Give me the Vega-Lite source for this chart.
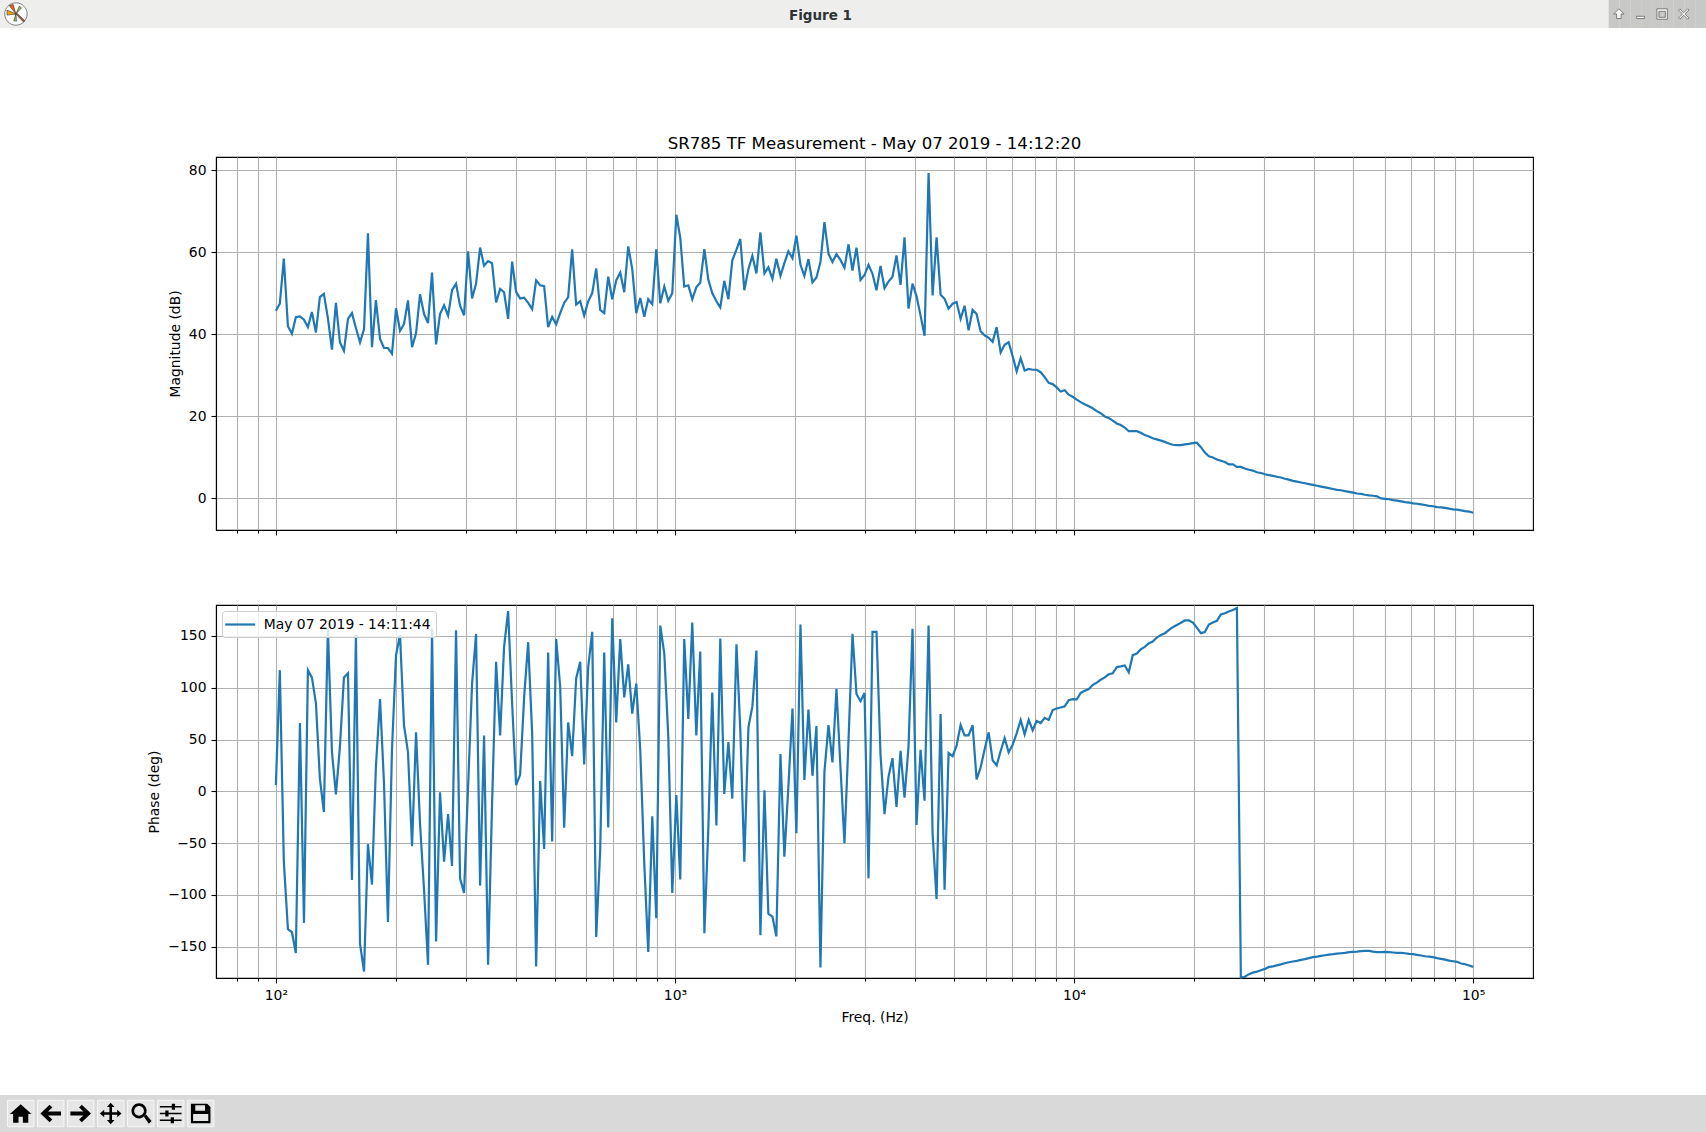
{
  "$schema": "https://vega.github.io/schema/vega-lite/v6.json",
  "padding": 0,
  "background": "white",
  "config": {
    "view": {"stroke": null},
    "concat": {"spacing": 0},
    "axis": {
      "labelFont": "DejaVu Sans", "labelFontSize": 13.9, "labelColor": "#000", "labelPadding": 5,
      "titleFont": "DejaVu Sans", "titleFontSize": 13.9, "titleFontWeight": "normal", "titleColor": "#000",
      "domainColor": "#000", "domainWidth": 1.1, "tickColor": "#000", "tickWidth": 1.1, "tickSize": 5,
      "gridColor": "#b0b0b0", "gridWidth": 1.1, "gridOpacity": 1
    }
  },
  "datasets": {
    "tf": [
      {"freq":100,"mag":45.7,"phase":6},{"freq":102.3,"mag":47.4,"phase":117},{"freq":104.7,"mag":58.4,"phase":-68},{"freq":107.2,"mag":41.9,"phase":-133},{"freq":109.7,"mag":40.1,"phase":-136},
      {"freq":112.2,"mag":44.1,"phase":-156},{"freq":114.9,"mag":44.3,"phase":66},{"freq":117.6,"mag":43.5,"phase":-127},{"freq":120.3,"mag":41.7,"phase":117},{"freq":123.1,"mag":45.4,"phase":110},
      {"freq":126,"mag":40.4,"phase":85},{"freq":128.9,"mag":49,"phase":12.5},{"freq":131.9,"mag":49.8,"phase":-20},{"freq":135,"mag":43.9,"phase":157},{"freq":138.2,"mag":36.2,"phase":38},
      {"freq":141.4,"mag":47.6,"phase":-3},{"freq":144.7,"mag":38,"phase":43},{"freq":148.1,"mag":35.9,"phase":110},{"freq":151.6,"mag":43.7,"phase":114},{"freq":155.1,"mag":45.1,"phase":-85.5},
      {"freq":158.7,"mag":41.5,"phase":151},{"freq":162.5,"mag":38,"phase":-147},{"freq":166.3,"mag":41.2,"phase":-174},{"freq":170.1,"mag":64.6,"phase":-51},{"freq":174.1,"mag":36.8,"phase":-90},
      {"freq":178.1,"mag":48.3,"phase":24},{"freq":182.4,"mag":38.8,"phase":89},{"freq":186.6,"mag":36.6,"phase":8},{"freq":190.9,"mag":36.6,"phase":-126},{"freq":195.4,"mag":35.2,"phase":40},
      {"freq":200,"mag":46.3,"phase":131.5},{"freq":204.7,"mag":40.8,"phase":151},{"freq":209.4,"mag":42.4,"phase":64},{"freq":214.3,"mag":48.2,"phase":38},{"freq":219.4,"mag":36.8,"phase":-53},
      {"freq":224.5,"mag":40.2,"phase":57},{"freq":229.7,"mag":49.7,"phase":-31},{"freq":235.1,"mag":44.9,"phase":-95},{"freq":240.6,"mag":42.7,"phase":-167.5},{"freq":246.2,"mag":55,"phase":157},
      {"freq":252,"mag":37.5,"phase":-145},{"freq":257.8,"mag":44.9,"phase":-1},{"freq":263.9,"mag":47,"phase":-68},{"freq":270.1,"mag":44.5,"phase":-22},{"freq":276.3,"mag":50.7,"phase":-72},
      {"freq":282.8,"mag":52.3,"phase":155.6},{"freq":289.4,"mag":46.9,"phase":-84},{"freq":296.2,"mag":44.6,"phase":-98},{"freq":303.1,"mag":60.2,"phase":4},{"freq":310.2,"mag":48.7,"phase":104},
      {"freq":317.4,"mag":52.3,"phase":152},{"freq":324.9,"mag":61.1,"phase":-91},{"freq":332.4,"mag":56.7,"phase":54},{"freq":340.2,"mag":57.8,"phase":-167.5},{"freq":348.1,"mag":57.3,"phase":-12},
      {"freq":356.3,"mag":47.7,"phase":125},{"freq":364.7,"mag":51,"phase":54},{"freq":373.1,"mag":50.2,"phase":139.5},{"freq":381.9,"mag":43.7,"phase":174},{"freq":390.8,"mag":57.7,"phase":85},
      {"freq":399.9,"mag":50.3,"phase":6},{"freq":409.3,"mag":48.7,"phase":16},{"freq":418.9,"mag":48.9,"phase":91},{"freq":428.7,"mag":47.6,"phase":144},{"freq":438.7,"mag":46.1,"phase":56},
      {"freq":448.9,"mag":53.1,"phase":-169},{"freq":459.4,"mag":51.9,"phase":10},{"freq":470.1,"mag":51.7,"phase":-55.6},{"freq":481.1,"mag":41.7,"phase":134},{"freq":492.4,"mag":44.2,"phase":-48.5},
      {"freq":503.9,"mag":42.4,"phase":147},{"freq":515.7,"mag":45.1,"phase":101},{"freq":527.7,"mag":47.6,"phase":-35},{"freq":540,"mag":49,"phase":66.5},{"freq":552.6,"mag":60.7,"phase":34},
      {"freq":565.5,"mag":47.2,"phase":109},{"freq":578.8,"mag":48,"phase":125},{"freq":592.3,"mag":44.5,"phase":26},{"freq":606.2,"mag":48,"phase":120},{"freq":620.4,"mag":50,"phase":154},
      {"freq":634.9,"mag":56,"phase":-140.5},{"freq":649.7,"mag":45.9,"phase":-56.6},{"freq":664.9,"mag":45.1,"phase":134},{"freq":680.4,"mag":54,"phase":-35},{"freq":696.3,"mag":48.5,"phase":167},
      {"freq":712.5,"mag":53.1,"phase":66.5},{"freq":729.2,"mag":55,"phase":147},{"freq":746.3,"mag":50.2,"phase":90.7},{"freq":763.7,"mag":61.4,"phase":122.5},{"freq":781.5,"mag":55.9,"phase":75},
      {"freq":799.8,"mag":45.1,"phase":104},{"freq":818.5,"mag":48.8,"phase":40},{"freq":837.7,"mag":44.2,"phase":-69.5},{"freq":857.2,"mag":48.5,"phase":-155},{"freq":877.3,"mag":47.3,"phase":-24},
      {"freq":897.8,"mag":60.7,"phase":-122.5},{"freq":918.7,"mag":47.5,"phase":160},{"freq":940.3,"mag":51.6,"phase":133},{"freq":962.2,"mag":48.1,"phase":53},{"freq":984.7,"mag":50,"phase":-98},
      {"freq":1008,"mag":69.1,"phase":-3.5},{"freq":1031,"mag":63.5,"phase":-85},{"freq":1055,"mag":51.6,"phase":147},{"freq":1080,"mag":51.9,"phase":70},{"freq":1105,"mag":48.5,"phase":163},
      {"freq":1131,"mag":51.4,"phase":54},{"freq":1157,"mag":52.5,"phase":135},{"freq":1185,"mag":60.7,"phase":-137},{"freq":1212,"mag":53.3,"phase":-37},{"freq":1240,"mag":50,"phase":95.5},
      {"freq":1270,"mag":48,"phase":-33},{"freq":1299,"mag":46.5,"phase":147.6},{"freq":1329,"mag":53,"phase":-2.6},{"freq":1361,"mag":48.5,"phase":47.6},{"freq":1392,"mag":58,"phase":-7},
      {"freq":1426,"mag":60.6,"phase":142},{"freq":1458,"mag":63.2,"phase":59},{"freq":1492,"mag":50.7,"phase":-68},{"freq":1528,"mag":55.9,"phase":62},{"freq":1563,"mag":59.1,"phase":82},
      {"freq":1600,"mag":54.8,"phase":136},{"freq":1637,"mag":64.8,"phase":-139},{"freq":1676,"mag":54.8,"phase":1},{"freq":1714,"mag":56.3,"phase":-118},{"freq":1755,"mag":53.5,"phase":-121},
      {"freq":1795,"mag":58.4,"phase":-140},{"freq":1838,"mag":54.2,"phase":36},{"freq":1880,"mag":57.3,"phase":-63},{"freq":1924,"mag":60.2,"phase":4.5},{"freq":1970,"mag":58.5,"phase":80},
      {"freq":2015,"mag":64,"phase":-40.5},{"freq":2063,"mag":56.9,"phase":161},{"freq":2110,"mag":54.2,"phase":11},{"freq":2160,"mag":58.3,"phase":79},{"freq":2211,"mag":52.6,"phase":15},
      {"freq":2262,"mag":53.8,"phase":63},{"freq":2315,"mag":57.6,"phase":-170},{"freq":2369,"mag":67.3,"phase":19},{"freq":2425,"mag":59.6,"phase":64},{"freq":2481,"mag":57.6,"phase":28},
      {"freq":2539,"mag":59.5,"phase":99},{"freq":2598,"mag":58.1,"phase":24},{"freq":2659,"mag":56.2,"phase":-50},{"freq":2722,"mag":61.9,"phase":49.5},{"freq":2785,"mag":55.5,"phase":152},
      {"freq":2850,"mag":61.1,"phase":94},{"freq":2917,"mag":53.2,"phase":87},{"freq":2985,"mag":54.4,"phase":95},{"freq":3055,"mag":56.9,"phase":-84},{"freq":3126,"mag":54.7,"phase":154},
      {"freq":3199,"mag":50.7,"phase":154},{"freq":3274,"mag":56.6,"phase":35},{"freq":3350,"mag":51.2,"phase":-22},{"freq":3428,"mag":52.8,"phase":14},{"freq":3508,"mag":54,"phase":32},
      {"freq":3590,"mag":59.2,"phase":-15},{"freq":3675,"mag":52,"phase":39},{"freq":3760,"mag":63.6,"phase":-6},{"freq":3848,"mag":46.2,"phase":43},{"freq":3938,"mag":52.3,"phase":157},
      {"freq":4030,"mag":49.2,"phase":-32.5},{"freq":4125,"mag":44.5,"phase":40},{"freq":4221,"mag":39.6,"phase":-9},{"freq":4320,"mag":79.3,"phase":160},{"freq":4421,"mag":49.4,"phase":-40.5},
      {"freq":4524,"mag":63.6,"phase":-104},{"freq":4630,"mag":49.6,"phase":74.6},{"freq":4738,"mag":48.6,"phase":-95},{"freq":4849,"mag":46.2,"phase":37},{"freq":4962,"mag":47.4,"phase":34},
      {"freq":5078,"mag":47.8,"phase":44},{"freq":5197,"mag":43.7,"phase":64},{"freq":5318,"mag":46.9,"phase":54},{"freq":5442,"mag":40.9,"phase":54},{"freq":5569,"mag":45.9,"phase":64},
      {"freq":5699,"mag":44.9,"phase":11.6},{"freq":5832,"mag":40.7,"phase":23},{"freq":5969,"mag":39.7,"phase":40.5},{"freq":6109,"mag":39.1,"phase":57},{"freq":6252,"mag":38.1,"phase":30},
      {"freq":6398,"mag":41.7,"phase":25},{"freq":6548,"mag":35.5,"phase":39},{"freq":6700,"mag":37.4,"phase":51.4},{"freq":6857,"mag":38,"phase":37.6},{"freq":7017,"mag":34.6,"phase":45},
      {"freq":7181,"mag":30.9,"phase":56},{"freq":7349,"mag":34.1,"phase":69},{"freq":7520,"mag":31.1,"phase":55},{"freq":7697,"mag":31.5,"phase":69},{"freq":7876,"mag":31.3,"phase":59},
      {"freq":8060,"mag":31.3,"phase":68},{"freq":8248,"mag":30.7,"phase":66},{"freq":8442,"mag":29.5,"phase":71},{"freq":8639,"mag":28.1,"phase":69},{"freq":8841,"mag":27.8,"phase":78.5},
      {"freq":9047,"mag":27,"phase":80},{"freq":9258,"mag":26,"phase":81},{"freq":9476,"mag":26.3,"phase":82},{"freq":9697,"mag":25.2,"phase":88},{"freq":9923,"mag":24.7,"phase":89},
      {"freq":10155,"mag":24,"phase":88.7},{"freq":10390,"mag":23.4,"phase":95},{"freq":10630,"mag":22.9,"phase":97},{"freq":10890,"mag":22.4,"phase":98.7},{"freq":11130,"mag":21.9,"phase":102.6},
      {"freq":11400,"mag":21.2,"phase":105},{"freq":11660,"mag":20.7,"phase":107.7},{"freq":11940,"mag":19.9,"phase":110},{"freq":12210,"mag":19.5,"phase":113},{"freq":12500,"mag":18.9,"phase":114},
      {"freq":12800,"mag":18.2,"phase":120},{"freq":13090,"mag":17.8,"phase":120.6},{"freq":13400,"mag":17.2,"phase":121.5},{"freq":13710,"mag":16.3,"phase":115},{"freq":14030,"mag":16.3,"phase":131.5},
      {"freq":14370,"mag":16.3,"phase":133},{"freq":14690,"mag":15.9,"phase":137},{"freq":15040,"mag":15.4,"phase":139.5},{"freq":15400,"mag":15,"phase":143},{"freq":15750,"mag":14.6,"phase":144.7},
      {"freq":16120,"mag":14.3,"phase":148.5},{"freq":16500,"mag":14,"phase":151},{"freq":16890,"mag":13.7,"phase":152.7},{"freq":17270,"mag":13.3,"phase":155.6},{"freq":17680,"mag":13,"phase":158.5},
      {"freq":18090,"mag":12.9,"phase":160.5},{"freq":18520,"mag":12.9,"phase":162.7},{"freq":18950,"mag":13.1,"phase":165},{"freq":19390,"mag":13.2,"phase":165},{"freq":19850,"mag":13.4,"phase":163},
      {"freq":20310,"mag":13.5,"phase":158},{"freq":20790,"mag":12.4,"phase":152.7},{"freq":21270,"mag":11.1,"phase":153.7},{"freq":21770,"mag":10.2,"phase":161},{"freq":22280,"mag":9.9,"phase":163},
      {"freq":22800,"mag":9.4,"phase":164.6},{"freq":23330,"mag":9.1,"phase":170.7},{"freq":23870,"mag":8.8,"phase":172},{"freq":24430,"mag":8.2,"phase":173.6},{"freq":25010,"mag":8.2,"phase":175},
      {"freq":25590,"mag":7.6,"phase":177},{"freq":26180,"mag":7.6,"phase":-179.7},{"freq":26790,"mag":7.2,"phase":-179},{"freq":27430,"mag":6.9,"phase":-176.5},{"freq":28060,"mag":6.7,"phase":-175},
      {"freq":28720,"mag":6.3,"phase":-174},{"freq":29390,"mag":6.1,"phase":-172.7},{"freq":30080,"mag":5.8,"phase":-171.4},{"freq":30780,"mag":5.6,"phase":-169.5},{"freq":31500,"mag":5.4,"phase":-169},
      {"freq":32230,"mag":5.2,"phase":-168},{"freq":32990,"mag":5,"phase":-167},{"freq":33760,"mag":4.7,"phase":-166},{"freq":34550,"mag":4.5,"phase":-165},{"freq":35350,"mag":4.2,"phase":-164.3},
      {"freq":36180,"mag":4,"phase":-163.7},{"freq":37030,"mag":3.8,"phase":-162.7},{"freq":37890,"mag":3.6,"phase":-162},{"freq":38780,"mag":3.4,"phase":-161},{"freq":39680,"mag":3.2,"phase":-160},
      {"freq":40620,"mag":3,"phase":-159.5},{"freq":41570,"mag":2.8,"phase":-158.8},{"freq":42540,"mag":2.6,"phase":-158.2},{"freq":43530,"mag":2.4,"phase":-157.6},{"freq":44550,"mag":2.2,"phase":-157.2},
      {"freq":45590,"mag":2,"phase":-156.6},{"freq":46660,"mag":1.9,"phase":-156.3},{"freq":47740,"mag":1.7,"phase":-156},{"freq":48860,"mag":1.5,"phase":-155.3},{"freq":50000,"mag":1.3,"phase":-155},
      {"freq":51170,"mag":1.1,"phase":-154.7},{"freq":52370,"mag":1,"phase":-154.3},{"freq":53590,"mag":0.8,"phase":-154},{"freq":54840,"mag":0.65,"phase":-154},{"freq":56120,"mag":0.55,"phase":-154.7},
      {"freq":57430,"mag":0.4,"phase":-155.3},{"freq":58780,"mag":-0.1,"phase":-155.3},{"freq":60150,"mag":-0.2,"phase":-155},{"freq":61560,"mag":-0.3,"phase":-155.3},{"freq":63000,"mag":-0.5,"phase":-155.6},
      {"freq":64480,"mag":-0.65,"phase":-156},{"freq":65980,"mag":-0.8,"phase":-156},{"freq":67520,"mag":-1,"phase":-156.3},{"freq":69100,"mag":-1.1,"phase":-156.9},{"freq":70710,"mag":-1.3,"phase":-157.2},
      {"freq":72360,"mag":-1.4,"phase":-157.9},{"freq":74050,"mag":-1.55,"phase":-158.5},{"freq":75790,"mag":-1.7,"phase":-159.2},{"freq":77560,"mag":-1.9,"phase":-159.5},{"freq":79370,"mag":-2,"phase":-160.1},
      {"freq":81220,"mag":-2.2,"phase":-161},{"freq":83120,"mag":-2.3,"phase":-161.7},{"freq":85070,"mag":-2.4,"phase":-162.4},{"freq":87050,"mag":-2.6,"phase":-163.4},{"freq":89100,"mag":-2.75,"phase":-164},
      {"freq":91180,"mag":-2.85,"phase":-164.6},{"freq":93300,"mag":-3,"phase":-166.2},{"freq":95490,"mag":-3.2,"phase":-166.9},{"freq":97720,"mag":-3.3,"phase":-168.2},{"freq":100000,"mag":-3.6,"phase":-169.5}
    ]
  },
  "concat": [
    {
      "width": 216, "height": 28, "view": {"fill": "#eeeeec"},
      "data": {"values": [{"part": "disc"}, {"part": "orange"}, {"part": "yellow"}, {"part": "green"}, {"part": "brown"}]},
      "mark": {"type": "point", "filled": true, "opacity": 1, "size": 500, "stroke": "#333", "strokeWidth": 0.6},
      "encoding": {
        "x": {"datum": "app", "type": "nominal", "axis": null, "scale": {"type": "point", "padding": 0.0866, "domain": ["app", "rest"]}},
        "shape": {"field": "part", "legend": null, "scale": {
          "domain": ["disc", "orange", "yellow", "green", "brown"],
          "range": [
            "M0,-1 A1,1 0 1 1 0,1 A1,1 0 1 1 0,-1 Z",
            "M0,0 L-0.6,-0.75 L-0.25,-0.85 Z",
            "M0,0 L-0.8,-0.35 L-0.8,0.1 Z",
            "M0,0 L0.3,-0.7 L0.5,-0.55 Z M0,0 L-0.2,0.6 L0.05,0.65 Z",
            "M-0.05,-0.05 L0.05,-0.1 L0.8,0.6 L0.65,0.7 Z"
          ]}},
        "color": {"field": "part", "legend": null, "scale": {
          "domain": ["disc", "orange", "yellow", "green", "brown"],
          "range": ["#ffffff", "#e8601c", "#f0a400", "#8cc152", "#a0522d"]}}
      }
    },
    {
      "width": 1317, "height": 28, "view": {"fill": "#eeeeec"},
      "data": {"values": [{"label": "Figure 1"}]},
      "mark": {"type": "text", "font": "DejaVu Sans", "fontSize": 13.5, "fontWeight": "bold", "color": "#2e3436", "dx": -54, "dy": 2},
      "encoding": {"text": {"field": "label"}}
    },
    {
      "width": 173, "height": 28, "view": {"fill": "#eeeeec"},
      "layer": [
        {
          "data": {"values": [{"slot": 7}, {"slot": 8}, {"slot": 9}, {"slot": 10}, {"slot": 11}, {"slot": 12}, {"slot": 13}, {"slot": 14}, {"slot": 15}]},
          "mark": {"type": "rect", "color": "#c8c8c6"},
          "encoding": {"x": {"field": "slot", "type": "ordinal", "axis": null, "scale": {"type": "band", "paddingInner": 0, "paddingOuter": 0, "domain": [0, 1, 2, 3, 4, 5, 6, 7, 8, 9, 10, 11, 12, 13, 14, 15]}}}
        },
        {
          "data": {"values": [{"slot": 8, "button": "up"}, {"slot": 10, "button": "min"}, {"slot": 12, "button": "max"}, {"slot": 14, "button": "close"}]},
          "mark": {"type": "point", "filled": true, "opacity": 1, "size": 170, "color": "#f4f4f4", "stroke": "#666", "strokeWidth": 0.8, "xOffset": -6},
          "encoding": {
            "x": {"field": "slot", "type": "ordinal", "axis": null, "scale": {"type": "band", "paddingInner": 0, "paddingOuter": 0, "domain": [0, 1, 2, 3, 4, 5, 6, 7, 8, 9, 10, 11, 12, 13, 14, 15]}},
            "shape": {"field": "button", "legend": null, "scale": {
              "domain": ["up", "min", "max", "close"],
              "range": [
                "M0,-0.8 L0.8,0 L0.35,0 L0.35,0.7 L-0.35,0.7 L-0.35,0 L-0.8,0 Z",
                "M-0.6,0.35 L0.6,0.35 L0.6,0.7 L-0.6,0.7 Z",
                "M-0.8,-0.8 L0.8,-0.8 L0.8,0.8 L-0.8,0.8 Z M-0.5,-0.4 L-0.5,0.5 L0.5,0.5 L0.5,-0.4 Z",
                "M-0.8,-0.6 L-0.6,-0.8 L0,-0.2 L0.6,-0.8 L0.8,-0.6 L0.2,0 L0.8,0.6 L0.6,0.8 L0,0.2 L-0.6,0.8 L-0.8,0.6 L-0.2,0 Z"
              ]}}
          }
        }
      ]
    },
    {"width": 216, "height": 129, "data": {"values": []}, "mark": "point"},
    {"width": 1317, "height": 129, "data": {"values": []}, "mark": "point"},
    {"width": 173, "height": 129, "data": {"values": []}, "mark": "point"},
    {"width": 216, "height": 373, "data": {"values": []}, "mark": "point"},
    {
      "width": 1317, "height": 373,
      "view": {"stroke": "#000", "strokeWidth": 1.1},
      "title": {"text": "SR785 TF Measurement - May 07 2019 - 14:12:20", "font": "DejaVu Sans", "fontSize": 16.6, "fontWeight": "normal", "color": "#000", "offset": 4},
      "data": {"name": "tf"},
      "mark": {"type": "line", "color": "#1f77b4", "strokeWidth": 2.2},
      "encoding": {
        "x": {
          "field": "freq", "type": "quantitative",
          "scale": {"type": "log", "base": 10, "domain": [70.79, 141254], "nice": false},
          "axis": {
            "title": null, "labels": false, "grid": true,
            "values": [80, 90, 100, 200, 300, 400, 500, 600, 700, 800, 900, 1000, 2000, 3000, 4000, 5000, 6000, 7000, 8000, 9000, 10000, 20000, 30000, 40000, 50000, 60000, 70000, 80000, 90000, 100000],
            "tickSize": {"condition": {"test": "indexof([100, 1000, 10000, 100000], datum.value) >= 0", "value": 5}, "value": 3}
          }
        },
        "y": {
          "field": "mag", "type": "quantitative",
          "scale": {"domain": [-7.8, 83.2], "nice": false, "zero": false},
          "axis": {"title": "Magnitude (dB)", "values": [0, 20, 40, 60, 80], "grid": true, "titlePadding": 6}
        }
      }
    },
    {"width": 173, "height": 373, "data": {"values": []}, "mark": "point"},
    {"width": 216, "height": 75, "data": {"values": []}, "mark": "point"},
    {"width": 1317, "height": 75, "data": {"values": []}, "mark": "point"},
    {"width": 173, "height": 75, "data": {"values": []}, "mark": "point"},
    {"width": 216, "height": 373, "data": {"values": []}, "mark": "point"},
    {
      "width": 1317, "height": 373,
      "view": {"stroke": "#000", "strokeWidth": 1.1},
      "data": {"name": "tf"},
      "mark": {"type": "line", "strokeWidth": 2.2},
      "encoding": {
        "x": {
          "field": "freq", "type": "quantitative",
          "scale": {"type": "log", "base": 10, "domain": [70.79, 141254], "nice": false},
          "axis": {
            "title": "Freq. (Hz)", "grid": true, "labelOverlap": false, "labelFlush": false, "titlePadding": 9,
            "values": [80, 90, 100, 200, 300, 400, 500, 600, 700, 800, 900, 1000, 2000, 3000, 4000, 5000, 6000, 7000, 8000, 9000, 10000, 20000, 30000, 40000, 50000, 60000, 70000, 80000, 90000, 100000],
            "labelExpr": "datum.value == 100 ? '10²' : datum.value == 1000 ? '10³' : datum.value == 10000 ? '10⁴' : datum.value == 100000 ? '10⁵' : ''",
            "tickSize": {"condition": {"test": "indexof([100, 1000, 10000, 100000], datum.value) >= 0", "value": 5}, "value": 3}
          }
        },
        "y": {
          "field": "phase", "type": "quantitative",
          "scale": {"domain": [-180.2, 179.9], "nice": false, "zero": false},
          "axis": {"title": "Phase (deg)", "values": [-150, -100, -50, 0, 50, 100, 150], "grid": true, "titlePadding": 6.5}
        },
        "color": {
          "datum": "May 07 2019 - 14:11:44",
          "type": "nominal",
          "scale": {"domain": ["May 07 2019 - 14:11:44"], "range": ["#1f77b4"]},
          "legend": {
            "title": null, "orient": "top-left", "offset": 6, "padding": 5,
            "fillColor": "rgba(255,255,255,0.8)", "strokeColor": "#cccccc", "cornerRadius": 3,
            "symbolType": "M-2.14,0 L2.14,0", "symbolSize": 196, "symbolStrokeWidth": 2.2, "symbolOffset": 4.7,
            "labelFont": "DejaVu Sans", "labelFontSize": 13.9, "labelColor": "#000", "labelOffset": 15, "labelLimit": 300
          }
        }
      }
    },
    {"width": 173, "height": 373, "data": {"values": []}, "mark": "point"},
    {"width": 216, "height": 117, "data": {"values": []}, "mark": "point"},
    {"width": 1317, "height": 117, "data": {"values": []}, "mark": "point"},
    {"width": 173, "height": 117, "data": {"values": []}, "mark": "point"},
    {
      "width": 216, "height": 37, "view": {"fill": "#d9d9d9"},
      "data": {"values": [{"tool": "home"}, {"tool": "back"}, {"tool": "forward"}, {"tool": "pan"}, {"tool": "zoom"}, {"tool": "subplots"}, {"tool": "save"}]},
      "encoding": {
        "x": {"field": "tool", "type": "nominal", "sort": null, "axis": null, "scale": {"type": "point", "padding": 0.6, "domain": ["home", "back", "forward", "pan", "zoom", "subplots", "save"]}}
      },
      "layer": [
        {"mark": {"type": "point", "shape": "square", "filled": true, "opacity": 1, "size": 700, "color": "#e6e6e6", "stroke": "#f6f6f6", "strokeWidth": 1, "xOffset": 2.7}},
        {
          "mark": {"type": "point", "filled": true, "opacity": 1, "size": 470, "color": "#000", "xOffset": 2.7},
          "encoding": {
            "shape": {"field": "tool", "legend": null, "scale": {
              "domain": ["home", "back", "forward", "pan", "zoom", "subplots", "save"],
              "range": [
                "M0,-0.85 L1,0.05 L0.7,0.05 L0.7,0.85 L0.2,0.85 L0.2,0.3 L-0.2,0.3 L-0.2,0.85 L-0.7,0.85 L-0.7,0.05 L-1,0.05 Z",
                "M-0.95,0 L-0.1,-0.8 L0.15,-0.55 L-0.25,-0.18 L0.95,-0.18 L0.95,0.18 L-0.25,0.18 L0.15,0.55 L-0.1,0.8 Z",
                "M0.95,0 L0.1,-0.8 L-0.15,-0.55 L0.25,-0.18 L-0.95,-0.18 L-0.95,0.18 L0.25,0.18 L-0.15,0.55 L0.1,0.8 Z",
                "M0,-1 L0.35,-0.6 L0.12,-0.6 L0.12,-0.12 L0.6,-0.12 L0.6,-0.35 L1,0 L0.6,0.35 L0.6,0.12 L0.12,0.12 L0.12,0.6 L0.35,0.6 L0,1 L-0.35,0.6 L-0.12,0.6 L-0.12,0.12 L-0.6,0.12 L-0.6,0.35 L-1,0 L-0.6,-0.35 L-0.6,-0.12 L-0.12,-0.12 L-0.12,-0.6 L-0.35,-0.6 Z",
                "M-0.15,-0.95 A0.7,0.7 0 1 1 -0.15,0.45 A0.7,0.7 0 1 1 -0.15,-0.95 Z M-0.15,-0.7 A0.45,0.45 0 1 0 -0.15,0.2 A0.45,0.45 0 1 0 -0.15,-0.7 Z M0.3,0.3 L0.5,0.1 L1,0.7 L0.75,0.95 Z",
                "M-1,-0.7 H1 V-0.55 H-1 Z M0.1,-0.9 H0.4 V-0.35 H0.1 Z M-1,-0.08 H1 V0.08 H-1 Z M-0.5,-0.28 H-0.2 V0.28 H-0.5 Z M-1,0.55 H1 V0.7 H-1 Z M0,0.35 H0.3 V0.9 H0 Z",
                "M-0.9,-0.9 L0.6,-0.9 L0.9,-0.6 L0.9,0.9 L-0.9,0.9 Z M-0.7,0.7 L0.7,0.7 L0.7,0.05 L-0.7,0.05 Z M-0.5,-0.75 L-0.5,-0.25 L0.4,-0.25 L0.4,-0.75 Z"
              ]}}
          }
        }
      ]
    },
    {"width": 1317, "height": 37, "view": {"fill": "#d9d9d9"}, "data": {"values": []}, "mark": "point"},
    {"width": 173, "height": 37, "view": {"fill": "#d9d9d9"}, "data": {"values": []}, "mark": "point"}
  ],
  "columns": 3,
  "spacing": 0,
  "bounds": "flush",
  "align": "each",
  "resolve": {"scale": {"color": "independent", "shape": "independent"}, "legend": {"color": "independent", "shape": "independent"}}
}
